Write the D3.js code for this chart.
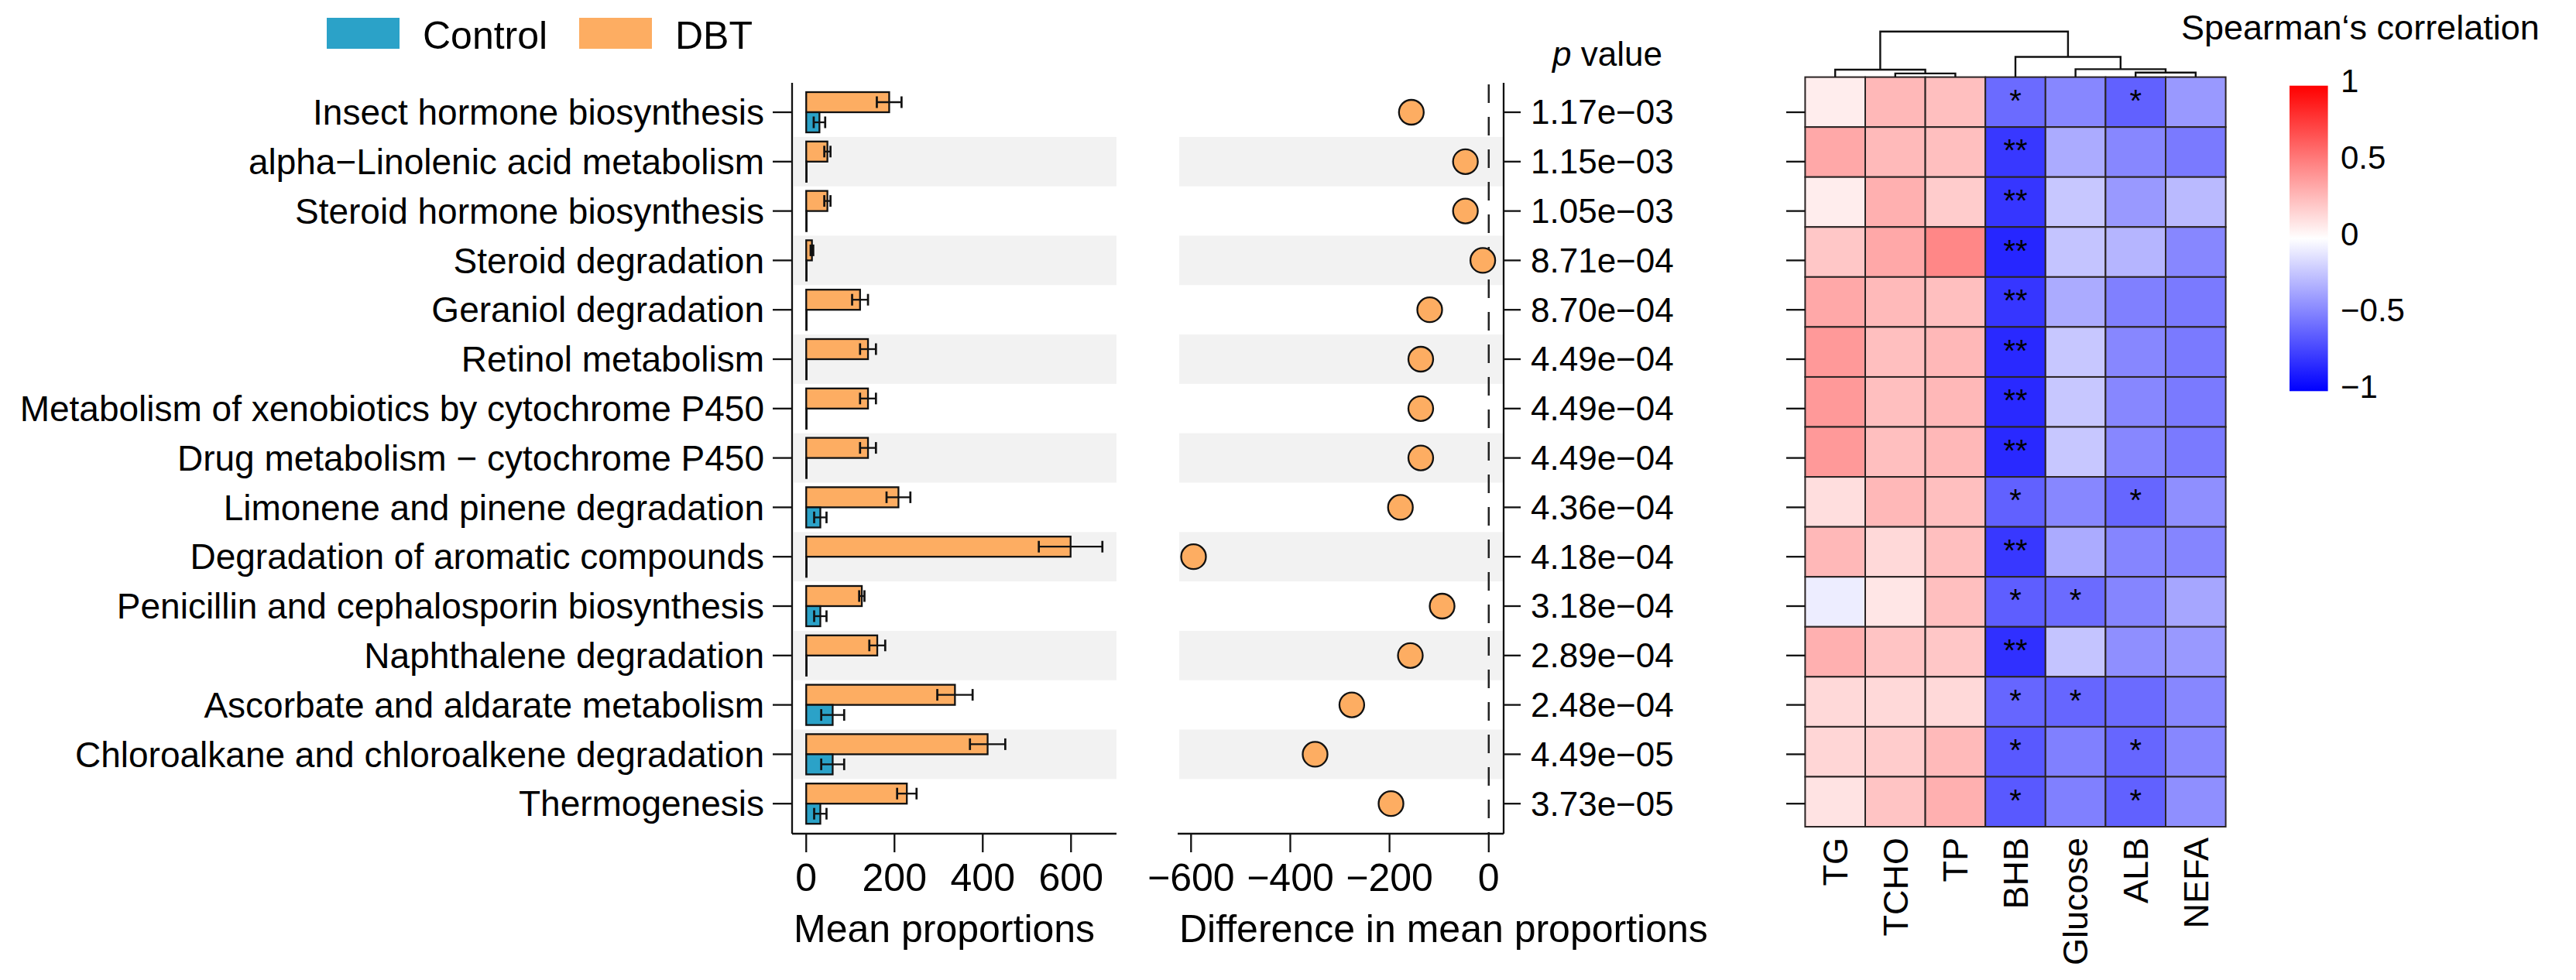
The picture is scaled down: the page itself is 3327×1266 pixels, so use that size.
<!DOCTYPE html>
<html>
<head>
<meta charset="utf-8">
<script src="https://cdn.jsdelivr.net/npm/d3@7"></script>
<style>
  html, body { margin: 0; padding: 0; background: #fff; }
  svg text { font-family: "Liberation Sans", Arial, Helvetica, sans-serif; fill: #000; }
</style>
</head>
<body>
<svg id="chart" width="3327" height="1266"></svg>
<script>
// ---------------- DATA ----------------
const pathways = [
  "Insect hormone biosynthesis",
  "alpha\u2212Linolenic acid metabolism",
  "Steroid hormone biosynthesis",
  "Steroid degradation",
  "Geraniol degradation",
  "Retinol metabolism",
  "Metabolism of xenobiotics by cytochrome P450",
  "Drug metabolism \u2212 cytochrome P450",
  "Limonene and pinene degradation",
  "Degradation of aromatic compounds",
  "Penicillin and cephalosporin biosynthesis",
  "Naphthalene degradation",
  "Ascorbate and aldarate metabolism",
  "Chloroalkane and chloroalkene degradation",
  "Thermogenesis"
];
const groups = ["Control", "DBT"];
const dbtMean = [188, 48, 48, 13, 122, 140, 140, 140, 209, 599, 126, 161, 337, 411, 228];
const dbtErr  = [28, 7, 7, 3, 18, 18, 18, 18, 27, 72, 6, 18, 40, 40, 22];
const ctrlMean = [30, 1, 1, 1, 1, 1, 1, 1, 32, 1, 32, 1, 60, 60, 32];
const ctrlErr  = [13, 0, 0, 0, 0, 0, 0, 0, 14, 0, 14, 0, 26, 26, 14];
const meanDiff = [-156, -47, -47, -12, -119, -137, -137, -137, -178, -595, -94, -158, -276, -350, -197];
const pValues = ["1.17e\u221203","1.15e\u221203","1.05e\u221203","8.71e\u221204","8.70e\u221204",
  "4.49e\u221204","4.49e\u221204","4.49e\u221204","4.36e\u221204","4.18e\u221204",
  "3.18e\u221204","2.89e\u221204","2.48e\u221204","4.49e\u221205","3.73e\u221205"];
const barTicks = [0, 200, 400, 600];
const diffTicks = [-600, -400, -200, 0];

const clinVars = ["TG", "TCHO", "TP", "BHB", "Glucose", "ALB", "NEFA"];
// Spearman correlation, rows = pathways, cols = clinVars
const corr = [
  [ 0.07, 0.28, 0.25, -0.58, -0.47, -0.62, -0.40],
  [ 0.34, 0.27, 0.25, -0.78, -0.33, -0.47, -0.52],
  [ 0.07, 0.31, 0.20, -0.79, -0.22, -0.40, -0.27],
  [ 0.22, 0.34, 0.47, -0.85, -0.23, -0.29, -0.47],
  [ 0.34, 0.27, 0.25, -0.79, -0.33, -0.50, -0.52],
  [ 0.40, 0.25, 0.28, -0.84, -0.22, -0.47, -0.52],
  [ 0.40, 0.25, 0.28, -0.84, -0.22, -0.47, -0.52],
  [ 0.40, 0.25, 0.28, -0.84, -0.22, -0.47, -0.52],
  [ 0.13, 0.28, 0.25, -0.62, -0.47, -0.60, -0.44],
  [ 0.28, 0.15, 0.25, -0.78, -0.33, -0.48, -0.48],
  [-0.07, 0.10, 0.25, -0.63, -0.58, -0.48, -0.35],
  [ 0.31, 0.23, 0.22, -0.81, -0.23, -0.44, -0.40],
  [ 0.15, 0.15, 0.15, -0.60, -0.60, -0.58, -0.47],
  [ 0.16, 0.20, 0.27, -0.65, -0.50, -0.60, -0.47],
  [ 0.11, 0.23, 0.31, -0.65, -0.50, -0.62, -0.44]
];
const signif = [
  ["", "", "", "*", "", "*", ""],
  ["", "", "", "**", "", "", ""],
  ["", "", "", "**", "", "", ""],
  ["", "", "", "**", "", "", ""],
  ["", "", "", "**", "", "", ""],
  ["", "", "", "**", "", "", ""],
  ["", "", "", "**", "", "", ""],
  ["", "", "", "**", "", "", ""],
  ["", "", "", "*", "", "*", ""],
  ["", "", "", "**", "", "", ""],
  ["", "", "", "*", "*", "", ""],
  ["", "", "", "**", "", "", ""],
  ["", "", "", "*", "*", "", ""],
  ["", "", "", "*", "", "*", ""],
  ["", "", "", "*", "", "*", ""]
];
// column dendrogram, hclust style (negative = leaf index, 1-based; positive = earlier merge)
const dendroMerge = [[-2, -3], [-6, -7], [-1, 1], [-5, 2], [-4, 4], [3, 5]];
const dendroHeight = [4.7, 5.9, 9.6, 10.2, 26.1, 58.9];
const legendTicks = [1, 0.5, 0, -0.5, -1];

// ---------------- DRAW ----------------
const svg = d3.select("#chart");
svg.append("rect").attr("width", 3327).attr("height", 1266).attr("fill", "#fff");

const colCtrl = "#2BA2C8", colDBT = "#FDAD62", ink = "#111";
const LW = 2.3;

const y = d3.scaleBand().domain(pathways).range([113.1, 1070.1]).paddingInner(0).paddingOuter(0);
const yc = d => y(d) + y.bandwidth() / 2;
const axTop = 107, axBot = 1077;

// ---- Legend (top) ----
const leg = svg.append("g");
const legItems = [{g: "Control", c: colCtrl, x: 422, tx: 546}, {g: "DBT", c: colDBT, x: 748, tx: 872}];
legItems.forEach(it => {
  leg.append("rect").attr("x", it.x).attr("y", 23).attr("width", 94).attr("height", 40).attr("fill", it.c);
  leg.append("text").attr("x", it.tx).attr("y", 63).attr("font-size", 50).text(it.g);
});

// ---- Bar panel ----
const xBar = d3.scaleLinear().domain([-32, 703]).range([1023, 1442]);
const gBar = svg.append("g");
// stripes
pathways.forEach((p, i) => {
  if (i % 2 === 1) {
    gBar.append("rect").attr("x", xBar.range()[0] + 2).attr("y", y(p))
      .attr("width", xBar.range()[1] - xBar.range()[0] - 2).attr("height", y.bandwidth()).attr("fill", "#F2F2F2");
  }
});
const bh = 26;
pathways.forEach((p, i) => {
  const c = yc(p);
  // DBT bar (upper)
  gBar.append("rect").attr("x", xBar(0)).attr("y", c - bh)
    .attr("width", xBar(dbtMean[i]) - xBar(0)).attr("height", bh)
    .attr("fill", colDBT).attr("stroke", ink).attr("stroke-width", LW);
  // Control bar (lower)
  gBar.append("rect").attr("x", xBar(0)).attr("y", c)
    .attr("width", xBar(ctrlMean[i]) - xBar(0)).attr("height", bh)
    .attr("fill", colCtrl).attr("stroke", ink).attr("stroke-width", LW);
  const errs = [[dbtMean[i], dbtErr[i], c - bh / 2], [ctrlMean[i], ctrlErr[i], c + bh / 2]];
  errs.forEach(([m, e, cy]) => {
    if (e <= 0) return;
    const x1 = xBar(m - e), x2 = xBar(m + e);
    gBar.append("line").attr("x1", x1).attr("x2", x2).attr("y1", cy).attr("y2", cy).attr("stroke", ink).attr("stroke-width", LW);
    [x1, x2].forEach(xx => gBar.append("line").attr("x1", xx).attr("x2", xx).attr("y1", cy - 7.5).attr("y2", cy + 7.5)
      .attr("stroke", ink).attr("stroke-width", LW + 0.4));
  });
});
// axes lines
gBar.append("line").attr("x1", xBar.range()[0]).attr("x2", xBar.range()[0]).attr("y1", axTop).attr("y2", axBot).attr("stroke", ink).attr("stroke-width", LW);
gBar.append("line").attr("x1", xBar.range()[0]).attr("x2", xBar.range()[1]).attr("y1", axBot).attr("y2", axBot).attr("stroke", ink).attr("stroke-width", LW);
// row ticks + labels
pathways.forEach(p => {
  gBar.append("line").attr("x1", 998).attr("x2", xBar.range()[0]).attr("y1", yc(p)).attr("y2", yc(p)).attr("stroke", ink).attr("stroke-width", LW);
  gBar.append("text").attr("x", 987).attr("y", yc(p)).attr("dy", "0.35em").attr("text-anchor", "end").attr("font-size", 46).text(p);
});
barTicks.forEach(t => {
  gBar.append("line").attr("x1", xBar(t)).attr("x2", xBar(t)).attr("y1", axBot).attr("y2", axBot + 24).attr("stroke", ink).attr("stroke-width", LW);
  gBar.append("text").attr("x", xBar(t)).attr("y", 1133).attr("dy", "0.35em").attr("text-anchor", "middle").attr("font-size", 50).text(t);
});
gBar.append("text").attr("x", 1025).attr("y", 1217).attr("font-size", 50).text("Mean proportions");

// ---- Difference panel ----
const xDiff = d3.scaleLinear().domain([-627, 30]).range([1521, 1942]);
const gDiff = svg.append("g");
pathways.forEach((p, i) => {
  if (i % 2 === 1) {
    gDiff.append("rect").attr("x", xDiff.range()[0] + 2).attr("y", y(p))
      .attr("width", xDiff.range()[1] - xDiff.range()[0] - 3).attr("height", y.bandwidth()).attr("fill", "#F2F2F2");
  }
});
gDiff.append("line").attr("x1", xDiff(0)).attr("x2", xDiff(0)).attr("y1", axTop + 2).attr("y2", axBot)
  .attr("stroke", "#222").attr("stroke-width", 2.5).attr("stroke-dasharray", "24,18");
pathways.forEach((p, i) => {
  gDiff.append("circle").attr("cx", xDiff(meanDiff[i])).attr("cy", yc(p)).attr("r", 16)
    .attr("fill", colDBT).attr("stroke", ink).attr("stroke-width", LW);
});
gDiff.append("line").attr("x1", xDiff.range()[1]).attr("x2", xDiff.range()[1]).attr("y1", axTop).attr("y2", axBot).attr("stroke", ink).attr("stroke-width", LW);
gDiff.append("line").attr("x1", xDiff.range()[0]).attr("x2", xDiff.range()[1]).attr("y1", axBot).attr("y2", axBot).attr("stroke", ink).attr("stroke-width", LW);
pathways.forEach((p, i) => {
  gDiff.append("line").attr("x1", xDiff.range()[1]).attr("x2", xDiff.range()[1] + 22).attr("y1", yc(p)).attr("y2", yc(p)).attr("stroke", ink).attr("stroke-width", LW);
  gDiff.append("text").attr("x", 1977).attr("y", yc(p)).attr("dy", "0.35em").attr("font-size", 44).text(pValues[i]);
});
diffTicks.forEach(t => {
  gDiff.append("line").attr("x1", xDiff(t)).attr("x2", xDiff(t)).attr("y1", axBot).attr("y2", axBot + 24).attr("stroke", ink).attr("stroke-width", LW);
  gDiff.append("text").attr("x", xDiff(t)).attr("y", 1133).attr("dy", "0.35em").attr("text-anchor", "middle").attr("font-size", 50)
    .text(t < 0 ? "\u2212" + Math.abs(t) : t);
});
gDiff.append("text").attr("x", 1523).attr("y", 1217).attr("font-size", 50).text("Difference in mean proportions");
const ph = gDiff.append("text").attr("x", 2005).attr("y", 85).attr("font-size", 44);
ph.append("tspan").attr("font-style", "italic").text("p");
ph.append("tspan").text(" value");

// ---- Heatmap ----
const xH = d3.scaleBand().domain(clinVars).range([2331.4, 2874.6]);
const yH = d3.scaleBand().domain(pathways).range([99.6, 1068]);
const color = d3.scaleLinear().domain([-1, 0, 1]).range(["#0000FF", "#FFFFFF", "#FF0000"]);
const gH = svg.append("g");
pathways.forEach((p, i) => {
  clinVars.forEach((v, j) => {
    gH.append("rect").attr("x", xH(v)).attr("y", yH(p)).attr("width", xH.bandwidth()).attr("height", yH.bandwidth())
      .attr("fill", color(corr[i][j])).attr("stroke", "#2b2424").attr("stroke-width", 2);
    if (signif[i][j]) {
      gH.append("text").attr("x", xH(v) + xH.bandwidth() / 2).attr("y", yH(p) + yH.bandwidth() / 2 + 12)
        .attr("text-anchor", "middle").attr("font-size", 40).attr("fill", "#1a1a1a").text(signif[i][j]);
    }
  });
  // row ticks aligned with the pathway rows
  gH.append("line").attr("x1", 2307).attr("x2", 2331.4).attr("y1", yc(p)).attr("y2", yc(p)).attr("stroke", ink).attr("stroke-width", LW);
});
clinVars.forEach(v => {
  gH.append("text").attr("transform", `translate(${xH(v) + xH.bandwidth() / 2},1082) rotate(-90)`)
    .attr("dy", "0.35em").attr("text-anchor", "end").attr("font-size", 45).text(v);
});
// dendrogram
const hY = d3.scaleLinear().domain([0, d3.max(dendroHeight)]).range([99.6, 40.7]);
const nodeX = [], nodeH = [];
const posOf = k => k < 0 ? [xH(clinVars[-k - 1]) + xH.bandwidth() / 2, 0] : [nodeX[k - 1], nodeH[k - 1]];
dendroMerge.forEach(([a, b], m) => {
  const [xa, ha] = posOf(a), [xb, hb] = posOf(b);
  const h = dendroHeight[m];
  gH.append("path").attr("d", `M${xa},${hY(ha)}V${hY(h)}H${xb}V${hY(hb)}`)
    .attr("fill", "none").attr("stroke", ink).attr("stroke-width", 2.4);
  nodeX.push((xa + xb) / 2); nodeH.push(h);
});

// ---- Colour legend ----
const yLeg = d3.scaleLinear().domain([-1, 1]).range([505.3, 110.7]);
const defs = svg.append("defs");
const grad = defs.append("linearGradient").attr("id", "cgrad").attr("x1", 0).attr("y1", 1).attr("x2", 0).attr("y2", 0);
d3.range(-1, 1.001, 0.1).forEach(v => grad.append("stop").attr("offset", (v + 1) / 2).attr("stop-color", color(v)));
svg.append("rect").attr("x", 2957).attr("y", yLeg(1)).attr("width", 49.6).attr("height", yLeg(-1) - yLeg(1)).attr("fill", "url(#cgrad)");
legendTicks.forEach(t => {
  svg.append("text").attr("x", 3023).attr("y", yLeg(t) - 6).attr("dy", "0.35em").attr("font-size", 42)
    .text(t < 0 ? "\u2212" + Math.abs(t) : t);
});
svg.append("text").attr("x", 2817).attr("y", 51).attr("font-size", 45).text("Spearman\u2018s correlation");
</script>
</body>
</html>
